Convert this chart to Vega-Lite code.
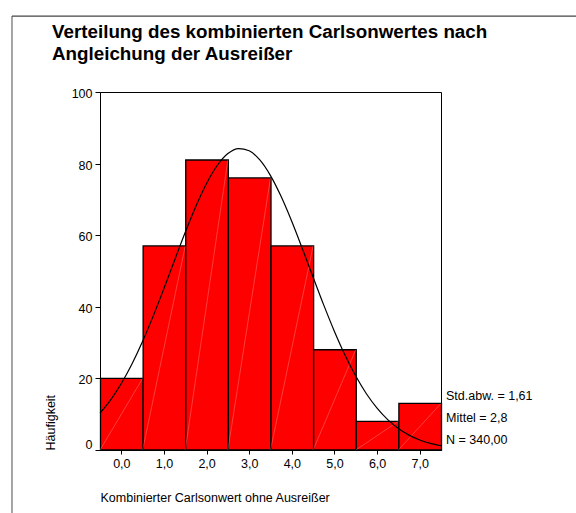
{
  "$schema": "https://vega.github.io/schema/vega-lite/v6.json",
  "width": 341,
  "height": 358,
  "autosize": {"type": "none"},
  "padding": {"left": 100, "top": 92, "right": 135, "bottom": 63},
  "background": "white",
  "config": {
    "font": "Liberation Sans",
    "view": {"stroke": "black", "strokeWidth": 1},
    "axis": {
      "grid": false,
      "domainColor": "black",
      "tickColor": "black",
      "labelColor": "black",
      "titleColor": "black",
      "labelFont": "Liberation Sans",
      "titleFont": "Liberation Sans",
      "labelFontSize": 12.5,
      "titleFontSize": 12.5,
      "titleFontWeight": "normal"
    }
  },
  "title": {
    "text": ["Verteilung des kombinierten Carlsonwertes nach", "Angleichung der Ausreißer"],
    "anchor": "start",
    "frame": "group",
    "dx": -48,
    "offset": -48.5,
    "fontSize": 18.8,
    "fontWeight": "bold",
    "font": "Liberation Sans",
    "lineHeight": 22,
    "color": "black"
  },
  "datasets": {
    "bins": [
      {"lo": -0.5, "hi": 0.5, "n": 20},
      {"lo": 0.5, "hi": 1.5, "n": 57},
      {"lo": 1.5, "hi": 2.5, "n": 81},
      {"lo": 2.5, "hi": 3.5, "n": 76},
      {"lo": 3.5, "hi": 4.5, "n": 57},
      {"lo": 4.5, "hi": 5.5, "n": 28},
      {"lo": 5.5, "hi": 6.5, "n": 8},
      {"lo": 6.5, "hi": 7.5, "n": 13}
    ],
    "diag": [
      {"b": 0, "x": -0.5, "y": 0}, {"b": 0, "x": 0.5, "y": 20},
      {"b": 1, "x": 0.5, "y": 0}, {"b": 1, "x": 1.5, "y": 57},
      {"b": 2, "x": 1.5, "y": 0}, {"b": 2, "x": 2.5, "y": 81},
      {"b": 3, "x": 2.5, "y": 0}, {"b": 3, "x": 3.5, "y": 76},
      {"b": 4, "x": 3.5, "y": 0}, {"b": 4, "x": 4.5, "y": 57},
      {"b": 5, "x": 4.5, "y": 0}, {"b": 5, "x": 5.5, "y": 28},
      {"b": 6, "x": 5.5, "y": 0}, {"b": 6, "x": 6.5, "y": 8},
      {"b": 7, "x": 6.5, "y": 0}, {"b": 7, "x": 7.5, "y": 13}
    ],
    "curve": [
      {"x": -0.5, "y": 10.31}, {"x": -0.25, "y": 14.0}, {"x": 0, "y": 18.57}, {"x": 0.25, "y": 24.03},
      {"x": 0.5, "y": 30.37}, {"x": 0.75, "y": 37.46}, {"x": 1.0, "y": 45.1}, {"x": 1.25, "y": 53.0},
      {"x": 1.5, "y": 60.81}, {"x": 1.75, "y": 68.11}, {"x": 2.0, "y": 74.46}, {"x": 2.25, "y": 79.47},
      {"x": 2.5, "y": 82.8}, {"x": 2.75, "y": 84.21}, {"x": 3.0, "y": 83.6}, {"x": 3.25, "y": 81.02},
      {"x": 3.5, "y": 76.65}, {"x": 3.75, "y": 70.79}, {"x": 4.0, "y": 63.82}, {"x": 4.25, "y": 56.16},
      {"x": 4.5, "y": 48.25}, {"x": 4.75, "y": 40.46}, {"x": 5.0, "y": 33.12}, {"x": 5.25, "y": 26.47},
      {"x": 5.5, "y": 20.65}, {"x": 5.75, "y": 15.72}, {"x": 6.0, "y": 11.69}, {"x": 6.25, "y": 8.48},
      {"x": 6.5, "y": 6.01}, {"x": 6.75, "y": 4.15}, {"x": 7.0, "y": 2.8}, {"x": 7.25, "y": 1.85},
      {"x": 7.5, "y": 1.19}
    ],
    "stats": [
      {"label": "Std.abw. = 1,61"},
      {"label": "Mittel = 2,8"},
      {"label": "N = 340,00"}
    ],
    "one": [{"k": 1}]
  },
  "layer": [
    {
      "data": {"name": "bins"},
      "mark": {"type": "bar", "fill": "#ff0000", "stroke": "black", "strokeWidth": 1.3, "binSpacing": 0},
      "encoding": {
        "x": {
          "field": "lo", "type": "quantitative", "bin": "binned",
          "scale": {"domain": [-0.5, 7.5], "nice": false, "zero": false},
          "axis": {
            "values": [0, 1, 2, 3, 4, 5, 6, 7],
            "labelExpr": "replace(format(datum.value, '.1f'), '.', ',')",
            "tickSize": 4,
            "labelPadding": 3,
            "title": "Kombinierter Carlsonwert ohne Ausreißer",
            "titleAnchor": "start",
            "titleAlign": "left",
            "titlePadding": 22
          }
        },
        "x2": {"field": "hi"},
        "y": {
          "field": "n", "type": "quantitative",
          "scale": {"domain": [0, 100], "nice": false},
          "axis": {
            "values": [0, 20, 40, 60, 80, 100],
            "tickSize": 5,
            "labelPadding": 3,
            "labelOffset": {"condition": {"test": "datum.value === 0", "value": -6}, "value": 1.5},
            "title": "Häufigkeit",
            "titleAnchor": "start",
            "titlePadding": 14
          }
        }
      }
    },
    {
      "data": {"name": "diag"},
      "mark": {"type": "line", "color": "white", "strokeWidth": 0.6, "opacity": 0.4},
      "encoding": {
        "x": {"field": "x", "type": "quantitative"},
        "y": {"field": "y", "type": "quantitative"},
        "detail": {"field": "b", "type": "nominal"}
      }
    },
    {
      "data": {"name": "curve"},
      "mark": {"type": "line", "color": "black", "strokeWidth": 1.2, "interpolate": "monotone"},
      "encoding": {
        "x": {"field": "x", "type": "quantitative"},
        "y": {"field": "y", "type": "quantitative"}
      }
    },
    {
      "data": {"name": "stats"},
      "mark": {
        "type": "text",
        "align": "left",
        "baseline": "middle",
        "dx": 5,
        "fontSize": 12.5,
        "font": "Liberation Sans",
        "color": "black",
        "clip": false
      },
      "encoding": {
        "x": {"datum": 7.5, "type": "quantitative"},
        "y": {"datum": 8.9, "type": "quantitative"},
        "yOffset": {"field": "label", "type": "nominal", "sort": null, "scale": {"range": [-33, 33]}},
        "text": {"field": "label", "type": "nominal"}
      }
    },
    {
      "data": {"name": "one"},
      "mark": {"type": "rule", "color": "#888888", "strokeWidth": 1.5, "clip": false},
      "encoding": {
        "x": {"datum": -2.565, "type": "quantitative"},
        "y": {"datum": 121.2, "type": "quantitative"},
        "y2": {"datum": -25}
      }
    },
    {
      "data": {"name": "one"},
      "mark": {"type": "rule", "color": "#444444", "strokeWidth": 1.3, "clip": false},
      "encoding": {
        "y": {"datum": 121.2, "type": "quantitative"},
        "x": {"datum": -2.565, "type": "quantitative"},
        "x2": {"datum": 12}
      }
    }
  ]
}
